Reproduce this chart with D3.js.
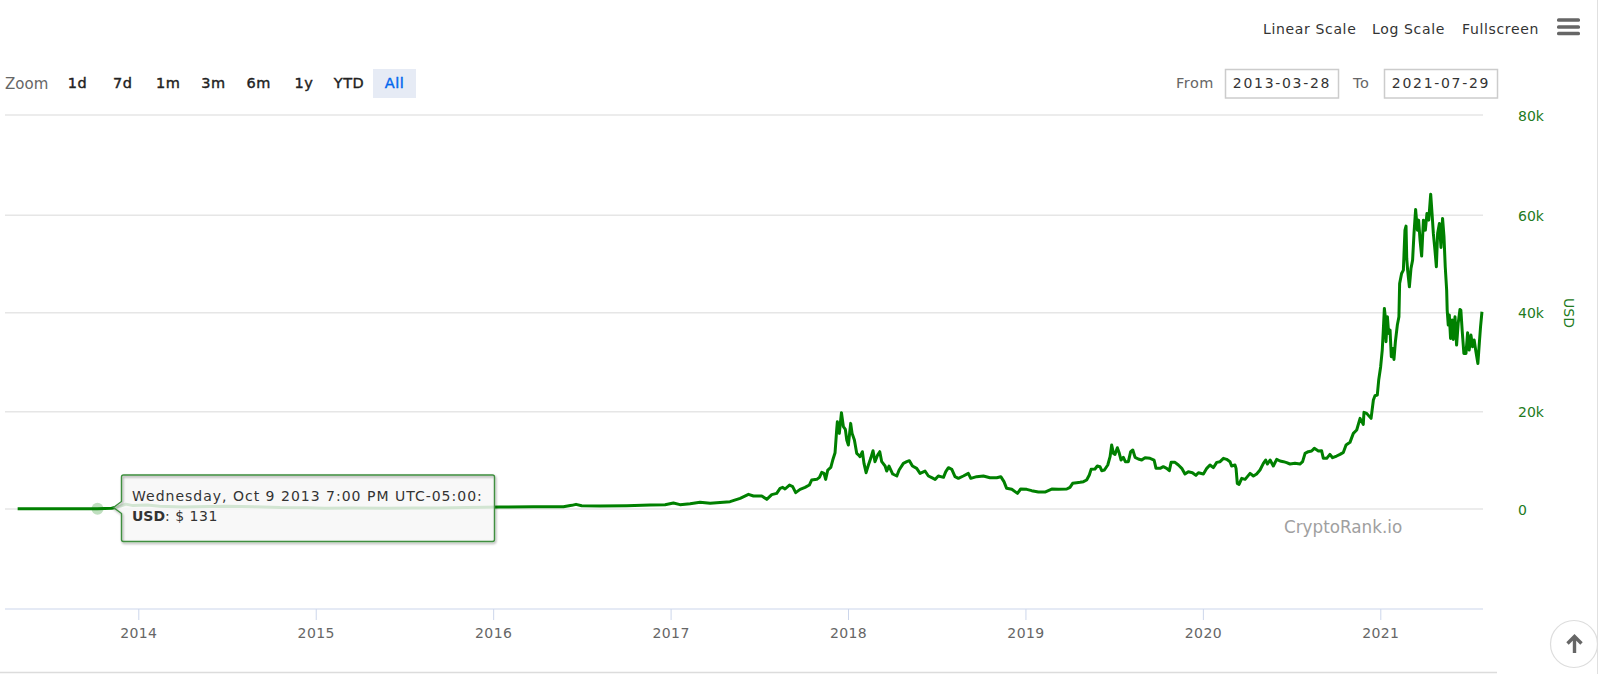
<!DOCTYPE html>
<html><head><meta charset="utf-8">
<script src="https://cdn.jsdelivr.net/npm/d3@7/dist/d3.min.js"></script>
<style>html,body{margin:0;padding:0;background:#fff;overflow:hidden}svg{display:block}text{font-family:"DejaVu Sans",sans-serif}</style>
</head><body><svg id="c" width="1600" height="674"></svg>
<script>
// Dates as decimal years, prices in USD
const years2013 = [2013.32,2013.40,2013.50,2013.60,2013.70,2013.77,2013.85,2013.90,2013.93,2013.97,2014.05,2014.12,2014.25,2014.40,2014.50,2014.65,2014.80,2014.95,2015.05,2015.20,2015.40,2015.55,2015.70,2015.85,2015.95];
const prices2013 = [135,120,90,110,125,131,200,650,1050,750,850,620,480,580,620,500,350,320,220,250,235,280,240,360,430];
const years2016 = [2016.039,2016.227,2016.396,2016.443,2016.467,2016.499,2016.603,2016.753,2016.884,2016.969,2017.016,2017.053,2017.110,2017.166,2017.223,2017.260,2017.335,2017.392,2017.439,2017.467,2017.514,2017.542,2017.570,2017.598];
const prices2016 = [466,534,534,804,1007,737,669,737,872,940,1278,940,1142,1413,1210,1345,1548,2224,3035,2697,2697,2021,2968,3238];
const years2017 = [2017.617,2017.632,2017.645,2017.670,2017.688,2017.705,2017.730,2017.758,2017.782,2017.795,2017.824,2017.839,2017.852,2017.865,2017.874,2017.886,2017.903,2017.914,2017.927,2017.936,2017.940,2017.951,2017.963,2017.974,2017.985,2017.993,2018.002,2018.015,2018.023,2018.036,2018.049,2018.060,2018.068,2018.081,2018.090,2018.102,2018.115,2018.128,2018.141,2018.152,2018.167,2018.179,2018.190,2018.209,2018.218,2018.231,2018.252,2018.275,2018.288,2018.312,2018.331,2018.346,2018.363,2018.387,2018.406,2018.434,2018.453,2018.472,2018.491,2018.509,2018.538,2018.551,2018.566,2018.585,2018.603,2018.622,2018.650,2018.678,2018.692,2018.725,2018.763,2018.800,2018.838,2018.861,2018.879,2018.894,2018.923,2018.955,2018.973,2019.007,2019.035,2019.073,2019.110,2019.148,2019.186];
const prices2017 = [4252,4455,4117,4928,4590,3373,4049,4455,4928,5942,6077,6483,7497,7294,6077,7970,8511,9998,11485,16082,17772,15406,19597,16758,16217,14054,13040,17434,15406,14054,11350,11012,10674,11688,9322,7429,8984,10336,11891,9660,11012,11688,9660,8781,7767,8781,7159,6753,7970,9322,9660,9863,8781,8308,7294,7767,6753,6415,6077,6753,6483,7632,8443,8105,6618,6280,6753,7294,6280,6618,6753,6415,6415,6618,5604,4252,4049,3238,4117,4049,3779,3508,3508,4117,4049];
const years2019 = [2019.233,2019.251,2019.266,2019.289,2019.308,2019.327,2019.345,2019.360,2019.370,2019.392,2019.405,2019.420,2019.430,2019.445,2019.464,2019.477,2019.486,2019.496,2019.505,2019.518,2019.529,2019.539,2019.552,2019.563,2019.580,2019.593,2019.605,2019.618,2019.636,2019.655,2019.674,2019.702,2019.725,2019.736,2019.759,2019.777,2019.796,2019.811,2019.821,2019.843,2019.862,2019.881,2019.899,2019.918,2019.941,2019.961,2019.975,2020.003,2020.022,2020.040,2020.059,2020.078,2020.097,2020.116,2020.134,2020.153,2020.162,2020.181,2020.187,2020.194,2020.204,2020.219,2020.238,2020.266,2020.285,2020.303,2020.322,2020.341,2020.354,2020.364,2020.379,2020.397,2020.416,2020.435,2020.454,2020.472];
const prices2019 = [4117,4455,5266,5401,5469,5604,5942,6956,8105,8173,8781,8646,7835,7970,8984,10674,13040,11350,11147,12499,11350,9998,10539,9660,9660,11688,12026,10539,10201,9998,10471,10336,9998,8308,8308,8646,8308,7835,9525,9525,8984,8308,7159,7632,7429,6888,7429,7159,8308,8984,8444,9525,9660,10336,10133,9660,8781,8984,8308,5266,5063,6280,6077,7294,6753,7159,7970,9322,9998,9187,9998,8781,10133,9795,9660,9457];
const years2020 = [2020.491,2020.519,2020.547,2020.562,2020.576,2020.594,2020.613,2020.628,2020.651,2020.669,2020.679,2020.698,2020.716,2020.731,2020.754,2020.773,2020.792,2020.807,2020.829,2020.848,2020.867,2020.886,2020.904,2020.908,2020.923,2020.948,2020.961,2020.970,2020.983];
const prices2020 = [9187,9322,9187,9660,11350,11688,11823,12364,11823,11891,10336,10336,11147,10471,10809,11147,11552,13040,13581,15406,16082,18448,17231,19665,19462,18448,22166,23045,23180];
const years2021 = [2020.991,2021.002,2021.011,2021.017,2021.023,2021.028,2021.032,2021.040,2021.047,2021.055,2021.062,2021.070,2021.077,2021.085,2021.096,2021.105,2021.109,2021.120,2021.130,2021.139,2021.145,2021.149,2021.154,2021.164,2021.173,2021.182,2021.190,2021.199,2021.209,2021.216,2021.224,2021.233,2021.243,2021.254,2021.263,2021.273,2021.284,2021.291,2021.299,2021.308,2021.316,2021.323,2021.333,2021.342,2021.351,2021.359,2021.366,2021.374,2021.377,2021.383,2021.389,2021.396,2021.406,2021.411,2021.421,2021.430,2021.439,2021.449,2021.454,2021.462,2021.471,2021.483,2021.492,2021.501,2021.511,2021.520,2021.529,2021.539,2021.550,2021.558,2021.565,2021.573];
const prices2021 = [26220,28930,32310,36360,40760,39070,33990,39070,35680,36360,30950,32640,30410,33990,37380,39070,45830,47850,48530,56640,57450,50900,48530,45150,48870,50560,55970,60830,56640,58670,54610,51370,58670,56640,60020,58670,63940,60360,55970,52590,49210,55970,57990,53130,59010,55290,49210,44474,40418,37376,39404,34672,38390,34470,39066,33320,37714,40553,40418,36024,31630,31630,35821,32306,35348,32982,34334,31968,29602,33658,37038,40080];

const allYears = [...years2013,...years2016,...years2017,...years2019,...years2020,...years2021];
const allPrices = [...prices2013,...prices2016,...prices2017,...prices2019,...prices2020,...prices2021];
const series = allYears.map((y,i)=>({y,v:allPrices[i]}));

const yearTicks = [2014,2015,2016,2017,2018,2019,2020,2021];
const priceTicks = [0,20000,40000,60000,80000];
const priceLabels = ["0","20k","40k","60k","80k"];
const zoomButtons = ["1d","7d","1m","3m","6m","1y","YTD","All"];
const scaleLinks = ["Linear Scale","Log Scale","Fullscreen"];
const hoverYear = 2013.77, hoverPrice = 131;

const svg = d3.select("#c");
const x = d3.scaleLinear().domain([2014,2021]).range([138.3,1380.3]);
const y = d3.scaleLinear().domain([0,80000]).range([509.3,115]);
// the gridlines of the screenshot are not quite evenly spaced
const yGrid = d3.scaleLinear().domain(priceTicks).range([509,411.7,312.7,215.3,115]);
const GREEN="#008000", AXIS="#ccd6eb", GRID="#e6e6e6";

// frame lines
svg.append("line").attr("x1",1597.5).attr("x2",1597.5).attr("y1",0).attr("y2",674).attr("stroke","#e0e0e0");
svg.append("line").attr("x1",0).attr("x2",1497).attr("y1",672.5).attr("y2",672.5).attr("stroke","#dcdcdc").attr("stroke-width",1.5);

// grid
svg.append("g").selectAll("line").data(priceTicks).join("line")
  .attr("x1",5).attr("x2",1483).attr("y1",d=>yGrid(d)).attr("y2",d=>yGrid(d)).attr("stroke",GRID).attr("stroke-width",1.4);

// x axis
const xAxis = svg.append("g").attr("transform","translate(0,609)")
  .call(d3.axisBottom(x).tickValues(yearTicks).tickFormat(d3.format("d")).tickSize(11).tickPadding(8));
xAxis.select(".domain").remove();
xAxis.selectAll(".tick line").attr("stroke",AXIS);
xAxis.selectAll("text").attr("fill","#666").style("font-size","14px").style("letter-spacing","0.4px");
svg.append("line").attr("x1",5).attr("x2",1483).attr("y1",609).attr("y2",609).attr("stroke",AXIS).attr("stroke-width",1.2);

// y labels
svg.append("g").selectAll("text").data(priceTicks).join("text")
  .attr("x",1518).attr("y",d=>yGrid(d)+5.5).attr("fill","#227a22").style("font-size","14px")
  .text((d,i)=>priceLabels[i]);
svg.append("text").attr("transform","translate(1564,313) rotate(90)").attr("text-anchor","middle")
  .attr("fill","#227a22").style("font-size","14px").text("USD");

// credit
svg.append("text").attr("x",1284).attr("y",532.5).attr("fill","#a0a0a0").style("font-size","16.8px").text("CryptoRank.io");

// price line
const line = d3.line().x(d=>x(d.y)).y(d=>y(d.v));
svg.append("path").datum(series).attr("d",line).attr("fill","none").attr("stroke",GREEN)
  .attr("stroke-width",3).attr("stroke-linejoin","round");

// hover marker
svg.append("circle").attr("cx",x(hoverYear)).attr("cy",y(hoverPrice)).attr("r",6)
  .attr("fill",GREEN).attr("fill-opacity",0.25);

// tooltip
const defs = svg.append("defs");
const f = defs.append("filter").attr("id","ts").attr("x","-5%").attr("y","-10%").attr("width","110%").attr("height","125%");
f.append("feDropShadow").attr("dx",1).attr("dy",1.5).attr("stdDeviation",1.2).attr("flood-color","#000").attr("flood-opacity",0.4);
const tipPath = d3.path();
const L=121.5,R=494.5,T=475,B=541.5,r=2,px=113.5,py=507.5;
tipPath.moveTo(L+r,T);tipPath.lineTo(R-r,T);tipPath.quadraticCurveTo(R,T,R,T+r);
tipPath.lineTo(R,B-r);tipPath.quadraticCurveTo(R,B,R-r,B);tipPath.lineTo(L+r,B);tipPath.quadraticCurveTo(L,B,L,B-r);
tipPath.lineTo(L,py+6);tipPath.lineTo(px,py);tipPath.lineTo(L,py-6);tipPath.lineTo(L,T+r);tipPath.quadraticCurveTo(L,T,L+r,T);
svg.append("path").attr("d",tipPath.toString()).attr("fill","rgba(247,247,247,0.85)").attr("stroke","none");
svg.append("path").attr("d",tipPath.toString()).attr("fill","none")
  .attr("stroke","#3f8f3f").attr("stroke-width",1.4).attr("filter","url(#ts)");
svg.append("text").attr("x",132).attr("y",500.5).attr("fill","#333").style("font-size","14px").style("letter-spacing","1px")
  .text("Wednesday, Oct 9 2013 7:00 PM UTC-05:00:");
const t2 = svg.append("text").attr("x",132).attr("y",521).attr("fill","#333").style("font-size","14px");
t2.append("tspan").attr("font-weight","bold").text("USD");
t2.append("tspan").style("letter-spacing","0.5px").text(": $ 131");

// range selector
svg.append("text").attr("x",5).attr("y",89).attr("fill","#666").style("font-size","15px").text("Zoom");
const btnX = d3.scalePoint().domain(zoomButtons.slice(0,6)).range([77.5,304]);
const centers = [...zoomButtons.slice(0,6).map(d=>btnX(d)),349,394.5];
svg.append("rect").attr("x",373).attr("y",69).attr("width",43).attr("height",29).attr("fill","#e6ebf5");
svg.append("g").selectAll("text").data(zoomButtons).join("text")
  .attr("x",(d,i)=>centers[i]).attr("y",88).attr("text-anchor","middle")
  .attr("fill",d=>d==="All"?"#0066ee":"#222").attr("stroke",d=>d==="All"?"#0066ee":"#222").attr("stroke-width",0.4)
  .style("font-size","14.5px").style("letter-spacing","0.5px").text(d=>d);

// date inputs
[["From",1176,1225,"2013-03-28"],["To",1353,1384,"2021-07-29"]].forEach(([lab,lx,bx,val])=>{
  svg.append("text").attr("x",lx).attr("y",88).attr("fill","#666").style("font-size","14.5px").style("letter-spacing","0.5px").text(lab);
  svg.append("rect").attr("x",bx+.5).attr("y",69.5).attr("width",113).attr("height",28.5).attr("fill","#fff")
    .attr("stroke","#ccc").attr("stroke-width",1.5);
  svg.append("text").attr("x",bx+57).attr("y",88).attr("text-anchor","middle").attr("fill","#333")
    .style("font-size","14px").style("letter-spacing","1.7px").text(val);
});

// top links
[1263,1372,1462].forEach((lx,i)=>svg.append("text").attr("x",lx).attr("y",34).attr("fill","#333").style("font-size","14px").style("letter-spacing","0.65px").text(scaleLinks[i]));
[20,27,33.5].forEach(by=>svg.append("rect").attr("x",1557).attr("y",by-1.8).attr("width",23).attr("height",3.6).attr("rx",1.5).attr("fill","#666"));

// scroll-to-top button
svg.append("circle").attr("cx",1574).attr("cy",644).attr("r",23.5).attr("fill","#fff").attr("stroke","#ddd").attr("stroke-width",1.2);
svg.append("path").attr("d","M1574.5 653V637M1567.5 643.5L1574.5 636.5L1581.5 643.5").attr("fill","none").attr("stroke","#666").attr("stroke-width",3.4);
</script></body></html>
